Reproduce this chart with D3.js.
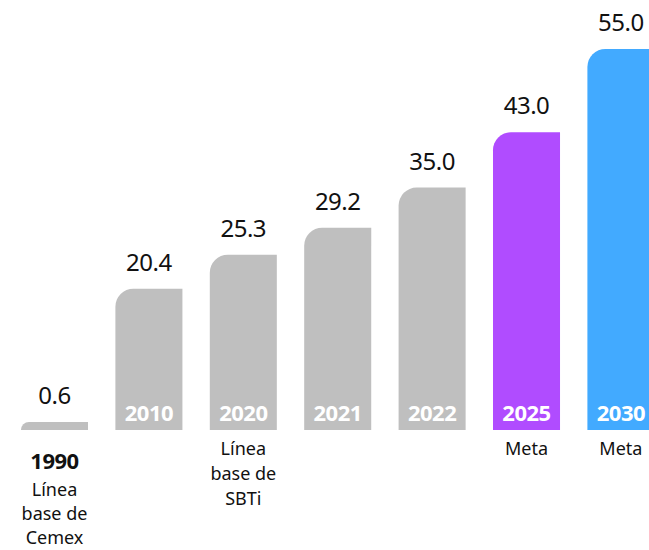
<!DOCTYPE html>
<html><head><meta charset="utf-8">
<script src="https://cdn.jsdelivr.net/npm/d3@7"></script>
<style>
html,body{margin:0;padding:0;background:#fff;overflow:hidden;}
svg{display:block;font-family:"Noto Sans",sans-serif;}
</style></head>
<body>
<script>
const years = ["1990","2010","2020","2021","2022","2025","2030"];
const values = [0.6, 20.4, 25.3, 29.2, 35.0, 43.0, 55.0];
const subLabels = [["Línea","base de","Cemex"],[],["Línea","base de","SBTi"],[],[],["Meta"],["Meta"]];
const colors = ["#bfbfbf","#bfbfbf","#bfbfbf","#bfbfbf","#bfbfbf","#b04cff","#42aaff"];

const W = 649, H = 550;
const svg = d3.select("body").append("svg").attr("width", W).attr("height", H);

const step = 94.4;
const x = d3.scaleBand().domain(years)
  .range([21 - step*0.145, 21 - step*0.145 + step*7])
  .paddingInner(0.29).paddingOuter(0.145);
const y = d3.scaleLinear().domain([0, 55]).range([430, 49]);

function barPath(x0, y0, w, h, r){
  r = Math.min(r, h, w);
  const p = d3.path();
  p.moveTo(x0, y0 + h);
  p.lineTo(x0, y0 + r);
  p.arcTo(x0, y0, x0 + r, y0, r);
  p.lineTo(x0 + w, y0);
  p.lineTo(x0 + w, y0 + h);
  p.closePath();
  return p.toString();
}

const data = years.map((yr, i) => ({yr, v: values[i], sub: subLabels[i], c: colors[i], i}));
const minH = 8;

const g = svg.append("g");
g.selectAll("path.bar").data(data).enter().append("path")
  .attr("class","bar")
  .attr("fill", d => d.c)
  .attr("d", d => {
    const h = Math.max(y(0) - y(d.v), minH);
    return barPath(x(d.yr), y(0) - h, x.bandwidth(), h, 18);
  });

// value labels
g.selectAll("text.val").data(data).enter().append("text")
  .attr("class","val")
  .attr("x", d => x(d.yr) + x.bandwidth()/2)
  .attr("y", d => y(0) - Math.max(y(0) - y(d.v), minH) - 18)
  .attr("text-anchor","middle")
  .attr("font-size", 24)
  .attr("letter-spacing", -0.5)
  .attr("fill", "#111")
  .text(d => d.v.toFixed(1));

// year labels inside bars (or below for tiny bar)
g.selectAll("text.yr").data(data).enter().append("text")
  .attr("class","yr")
  .attr("x", d => x(d.yr) + x.bandwidth()/2)
  .attr("y", d => d.i === 0 ? 469 : 421)
  .attr("text-anchor","middle")
  .attr("font-size", 22)
  .attr("font-weight", 700)
  .attr("letter-spacing", -0.5)
  .attr("fill", d => d.i === 0 ? "#111" : "#fff")
  .text(d => d.yr);

// sub labels
data.forEach(d => {
  const startY = d.i === 0 ? 496 : 455;
  const gap = d.i === 0 ? 24 : 25;
  d.sub.forEach((line, k) => {
    g.append("text")
      .attr("x", x(d.yr) + x.bandwidth()/2)
      .attr("y", startY + k*gap)
      .attr("text-anchor","middle")
      .attr("font-size", 18)
      .attr("fill", "#111")
      .text(line);
  });
});
</script>
</body></html>
